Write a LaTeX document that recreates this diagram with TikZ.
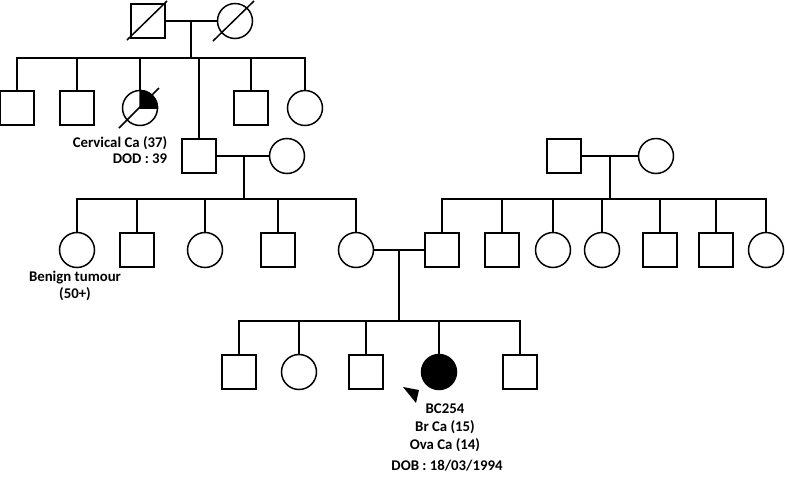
\documentclass[tikz,border=0pt]{standalone}
\usepackage{fontspec}
\setmainfont{Carlito}
\usetikzlibrary{calc,positioning}

\begin{document}
\begin{tikzpicture}[
    x=1pt, y=-1pt, line width=1.5pt,
    male/.style={draw, rectangle, minimum size=34pt, inner sep=0pt, outer sep=0pt},
    female/.style={draw, circle, minimum size=35pt, inner sep=0pt, outer sep=0pt},
    lbl/.style={font=\bfseries\fontsize{14.8}{16.5}\selectfont, align=center, inner sep=0pt}
]
\useasboundingbox (0,0) rectangle (785,477);

% generation I
\node[male] (gpa) at (148,21) {};
\node[female] (gma) at (235,21) {};
\draw ($(gpa.center)+(-21,19)$) -- ($(gpa.center)+(19,-20)$);
\draw ($(gma.center)+(-22,20)$) -- ($(gma.center)+(19,-20)$);
\draw (gpa.east) -- (gma.west);
\coordinate (m1) at (191,21);

% generation II
\node[male] (a1) at (17,108) {};
\node[male] (a2) at (77,108) {};
\node[female] (aunt) at (140,108) {};
\node[male] (dad) at (199,156) {};
\node[male] (a5) at (251,108) {};
\node[female] (a6) at (305,108) {};
\node[female] (mom) at (287,156) {};

\coordinate (s1) at (m1 |- 0,58);
\draw (m1) -- (s1);
\draw (a1.north) |- (s1) -| (a6.north);
\foreach \k in {a2,aunt,dad,a5}
    \draw (\k.north) -- (\k.north |- s1);

\filldraw (aunt.center) -- (aunt.north) arc[start angle=-90, end angle=0, radius=17.5] -- cycle;
\draw ($(aunt.center)+(-21,20)$) -- ($(aunt.center)+(19,-20)$);
\node[lbl, align=right, anchor=east] (cervtxt) at (168,150) {Cervical Ca (37)\\DOD : 39};

\draw (dad.east) -- (mom.west);
\coordinate (m2) at (244,156);

% generation I, right side
\node[male] (rgpa) at (564,156) {};
\node[female] (rgma) at (656,156) {};
\draw (rgpa.east) -- (rgma.west);
\coordinate (m3) at (610,156);

% generation III
\node[female] (b1) at (77,250) {};
\node[male] (b2) at (137,250) {};
\node[female] (b3) at (205,250) {};
\node[male] (b4) at (278,250) {};
\node[female] (mum) at (356,250) {};

\node[male] (pop) at (442,250) {};
\node[male] (r2) at (502,250) {};
\node[female] (r3) at (553,250) {};
\node[female] (r4) at (602,250) {};
\node[male] (r5) at (660,250) {};
\node[male] (r6) at (716,250) {};
\node[female] (r7) at (766,250) {};

\coordinate (s2) at (m2 |- 0,199);
\draw (m2) -- (s2);
\draw (b1.north) |- (s2) -| (mum.north);
\foreach \k in {b2,b3,b4}
    \draw (\k.north) -- (\k.north |- s2);

\coordinate (s3) at (m3 |- 0,199);
\draw (m3) -- (s3);
\draw (pop.north) |- (s3) -| (r7.north);
\foreach \k in {r2,r3,r4,r5,r6}
    \draw (\k.north) -- (\k.north |- s3);

\node[lbl] (benigntxt) at (75,286) {Benign tumour\\(50+)};

\draw (mum.east) -- (pop.west);
\coordinate (m4) at (399,250);

% generation IV
\node[male] (k1) at (239,372) {};
\node[female] (k2) at (299,372) {};
\node[male] (k3) at (366,372) {};
\node[female, fill=black] (pro) at (439,372) {};
\node[male] (k5) at (520,372) {};

\coordinate (s4) at (m4 |- 0,321);
\draw (m4) -- (s4);
\draw (k1.north) |- (s4) -| (k5.north);
\foreach \k in {k2,k3,pro}
    \draw (\k.north) -- (\k.north |- s4);

\fill ($(pro.center)+(-36,15)$) -- ($(pro.center)+(-20,18)$) -- ($(pro.center)+(-23,31)$) -- cycle;
\node[lbl, font=\bfseries\fontsize{14.8}{18}\selectfont] (protxt) at (445,428) {BC254\\Br Ca (15)\\Ova Ca (14)};
\node[lbl] (dobtxt) at (447,466) {DOB : 18/03/1994};
\end{tikzpicture}
\end{document}
